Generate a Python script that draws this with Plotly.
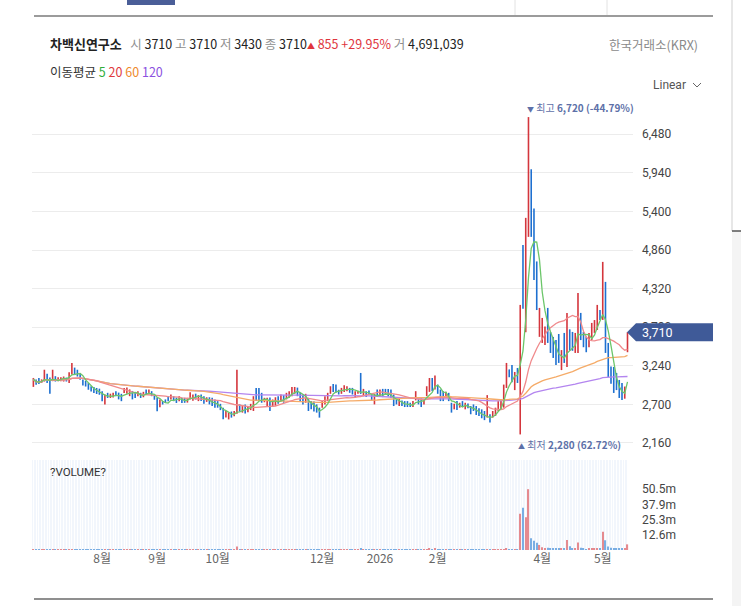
import math
import pandas as pd
import plotly.graph_objects as go

# ---------------- data ----------------
holidays = ["2025-08-15", "2025-10-03", "2025-10-06", "2025-10-07", "2025-10-08",
            "2025-10-09", "2025-12-25", "2025-12-31", "2026-01-01", "2026-02-16",
            "2026-02-17", "2026-02-18", "2026-03-02", "2026-05-01", "2026-05-05"]
dates = [d.strftime("%Y-%m-%d") for d in
         pd.bdate_range("2025-06-27", "2026-05-18", freq="C", holidays=holidays)]

open_ = [2960, 3040, 3060, 3005, 3030, 3120, 3070, 3030, 3080, 3030, 3030, 3030, 3070, 3010, 3130, 3210, 3180, 3130, 3045, 3020,
         2990, 2950, 2930, 2920, 2910, 2880, 2720, 2855, 2800, 2805, 2845, 2860, 2840, 2865, 2860, 2830, 2880, 2860, 2820, 2860,
         2805, 2900, 2845, 2880, 2830, 2790, 2670, 2745, 2765, 2810, 2775, 2810, 2790, 2750, 2790, 2785, 2730, 2775, 2760, 2845,
         2755, 2835, 2810, 2740, 2795, 2780, 2765, 2740, 2700, 2650, 2520, 2495, 2595, 2540, 2590, 2690, 2590, 2690, 2600, 2640,
         2620, 2920, 2920, 2860, 2735, 2690, 2790, 2680, 2690, 2810, 2750, 2825, 2775, 2800, 2820, 2850, 2930, 2860, 2835, 2730,
         2790, 2740, 2735, 2695, 2650, 2660, 2705, 2750, 2850, 2980, 2970, 2900, 2850, 2880, 2890, 2930, 2925, 2800, 2870, 3120,
         2820, 2880, 2890, 2845, 2710, 2905, 2820, 2910, 2910, 2905, 2900, 2830, 2765, 2690, 2750, 2740, 2740, 2720, 2670, 2760,
         2785, 2790, 2705, 2820, 2880, 3060, 2910, 2970, 2900, 2880, 2805, 2860, 2720, 2635, 2740, 2660, 2740, 2635, 2710, 2675,
         2690, 2670, 2640, 2625, 2600, 2520, 2560, 2520, 2545, 2620, 2640, 2660, 2944, 3180, 3240, 2910, 3200, 2950, 4900, 3720,
         5100, 5980, 5430, 4690, 3700, 3570, 3540, 4040, 3700, 3630, 3590, 3670, 3200, 3690, 3240, 3740, 3700, 3430, 3450, 3970,
         3700, 3640, 3510, 3610, 3710, 3750, 4010, 3900, 4400, 3550, 3220, 3180, 3130, 3030, 2990, 2800, 3710]
high = [3070, 3050, 3070, 3050, 3185, 3130, 3075, 3185, 3095, 3080, 3080, 3090, 3075, 3150, 3280, 3215, 3185, 3140, 3050, 3030,
        3000, 2955, 2945, 2930, 2920, 2885, 2840, 2862, 2850, 2862, 2885, 2865, 2848, 2931, 2935, 2910, 2888, 2865, 2885, 2862,
        2876, 2910, 2908, 2885, 2840, 2795, 2770, 2748, 2770, 2815, 2840, 2815, 2795, 2815, 2792, 2792, 2792, 2870, 2840, 2850,
        2830, 2838, 2815, 2800, 2800, 2792, 2769, 2746, 2708, 2654, 2608, 2585, 2600, 2608, 3185, 2700, 2677, 2700, 2677, 2708,
        2815, 2931, 2931, 2862, 2792, 2792, 2795, 2769, 2800, 2815, 2840, 2830, 2862, 2885, 2944, 2944, 2935, 2862, 2838, 2848,
        2792, 2746, 2740, 2700, 2654, 2746, 2815, 2862, 2954, 2986, 2977, 2905, 2931, 2968, 2954, 2931, 2931, 2885, 2890, 3140,
        2917, 2885, 2894, 2848, 2848, 2908, 2908, 2917, 2917, 2917, 2908, 2838, 2769, 2792, 2756, 2746, 2746, 2723, 2746, 2885,
        2792, 2800, 2769, 2954, 3069, 3069, 3106, 2977, 2908, 2885, 2876, 2862, 2723, 2710, 2746, 2723, 2746, 2723, 2712, 2677,
        2700, 2677, 2645, 2631, 2608, 2830, 2562, 2608, 2654, 2746, 2769, 2977, 3280, 3190, 3250, 3154, 3210, 4092, 4930, 5310,
        6720, 5990, 5440, 4700, 4050, 3910, 3790, 4050, 3714, 3644, 3600, 3685, 3460, 3700, 3980, 3750, 3714, 3700, 4260, 3980,
        3714, 3650, 3700, 3840, 3880, 4092, 4022, 4694, 4414, 3560, 3230, 3224, 3140, 3042, 3000, 2950, 3710]
low = [2945, 2975, 2985, 3000, 3020, 3000, 2850, 3025, 3020, 3025, 3025, 3020, 3020, 3000, 3120, 3110, 3090, 3045, 2965, 2950,
       2905, 2880, 2860, 2845, 2835, 2745, 2700, 2790, 2790, 2795, 2815, 2770, 2745, 2860, 2850, 2815, 2770, 2790, 2815, 2790,
       2800, 2835, 2838, 2815, 2765, 2605, 2660, 2698, 2720, 2745, 2770, 2745, 2720, 2745, 2720, 2722, 2725, 2770, 2750, 2768,
       2746, 2746, 2710, 2735, 2700, 2677, 2654, 2654, 2620, 2492, 2515, 2490, 2515, 2535, 2570, 2600, 2585, 2572, 2590, 2620,
       2608, 2746, 2750, 2723, 2730, 2677, 2608, 2665, 2680, 2710, 2745, 2723, 2770, 2792, 2815, 2848, 2815, 2746, 2700, 2723,
       2608, 2631, 2600, 2585, 2515, 2654, 2700, 2746, 2848, 2875, 2862, 2838, 2848, 2875, 2885, 2862, 2838, 2792, 2850, 2846,
       2815, 2802, 2838, 2756, 2700, 2815, 2815, 2802, 2838, 2815, 2792, 2677, 2700, 2677, 2677, 2663, 2663, 2663, 2663, 2756,
       2700, 2663, 2700, 2815, 2875, 2885, 2907, 2848, 2746, 2746, 2802, 2746, 2585, 2631, 2620, 2654, 2663, 2631, 2645, 2562,
       2608, 2552, 2539, 2506, 2480, 2515, 2446, 2515, 2539, 2608, 2631, 2654, 2930, 3080, 3010, 2900, 3000, 2280, 4040, 3710,
       5044, 5044, 4440, 4020, 3645, 3560, 3530, 3560, 3420, 3350, 3250, 3280, 3180, 3280, 3224, 3450, 3450, 3420, 3420, 3600,
       3500, 3430, 3500, 3600, 3700, 3742, 3882, 3882, 3420, 3084, 2990, 2860, 2900, 2790, 2760, 2780, 3430]
close = [3050, 2990, 3000, 3040, 3150, 3010, 2990, 3060, 3030, 3070, 3075, 3080, 3030, 3130, 3250, 3130, 3100, 3050, 2975, 2960,
         2915, 2890, 2870, 2855, 2845, 2760, 2820, 2800, 2840, 2850, 2840, 2780, 2760, 2920, 2925, 2900, 2790, 2800, 2875, 2800,
         2865, 2845, 2900, 2825, 2775, 2650, 2760, 2705, 2730, 2755, 2830, 2760, 2735, 2805, 2730, 2735, 2785, 2860, 2830, 2780,
         2820, 2755, 2725, 2790, 2710, 2690, 2665, 2660, 2630, 2510, 2600, 2575, 2525, 2600, 2660, 2620, 2670, 2590, 2670, 2700,
         2800, 2770, 2780, 2740, 2785, 2780, 2630, 2760, 2790, 2720, 2830, 2735, 2850, 2875, 2930, 2935, 2825, 2760, 2720, 2840,
         2630, 2645, 2615, 2600, 2540, 2740, 2805, 2850, 2945, 2890, 2880, 2845, 2925, 2960, 2945, 2870, 2850, 2875, 2885, 2860,
         2905, 2815, 2845, 2765, 2840, 2825, 2900, 2815, 2845, 2825, 2800, 2690, 2705, 2785, 2685, 2670, 2675, 2670, 2740, 2875,
         2710, 2680, 2760, 2945, 3050, 2900, 3090, 2860, 2760, 2755, 2870, 2760, 2600, 2705, 2630, 2715, 2670, 2715, 2650, 2575,
         2615, 2565, 2550, 2520, 2495, 2560, 2460, 2600, 2645, 2735, 2760, 2960, 3260, 3090, 3030, 3140, 3010, 4000, 4060, 5200,
         6100, 5060, 4460, 4040, 3950, 3850, 3760, 3580, 3440, 3380, 3280, 3350, 3440, 3300, 3700, 3470, 3480, 3680, 4100, 3620,
         3520, 3450, 3690, 3820, 3870, 4050, 3900, 4150, 3450, 3100, 3010, 2900, 2920, 2810, 2780, 2855, 3710]
volume = [310000, 220000, 240000, 190000, 520000, 300000, 360000, 430000, 210000, 190000,
          180000, 200000, 170000, 380000, 720000, 350000, 250000, 220000, 240000, 190000,
          230000, 210000, 190000, 170000, 160000, 270000, 280000, 170000, 150000, 160000,
          140000, 180000, 170000, 220000, 190000, 170000, 180000, 150000, 160000, 150000,
          160000, 180000, 170000, 150000, 160000, 300000, 200000, 140000, 130000, 150000,
          160000, 140000, 130000, 150000, 130000, 120000, 140000, 200000, 170000, 150000,
          160000, 150000, 170000, 150000, 150000, 160000, 170000, 150000, 180000, 320000,
          220000, 180000, 190000, 170000, 2850000, 370000, 200000, 240000, 180000, 190000,
          300000, 420000, 270000, 210000, 170000, 180000, 240000, 160000, 180000, 170000,
          160000, 150000, 190000, 200000, 280000, 250000, 210000, 190000, 220000, 180000,
          210000, 170000, 180000, 160000, 240000, 210000, 230000, 210000, 350000, 300000,
          230000, 180000, 180000, 200000, 190000, 170000, 160000, 180000, 150000, 980000,
          240000, 190000, 150000, 170000, 200000, 180000, 170000, 160000, 150000, 140000,
          150000, 210000, 160000, 150000, 140000, 140000, 130000, 130000, 160000, 270000,
          190000, 180000, 160000, 340000, 1100000, 620000, 880000, 250000, 210000, 190000,
          170000, 180000, 240000, 160000, 180000, 150000, 160000, 150000, 140000, 190000,
          160000, 180000, 170000, 180000, 210000, 570000, 320000, 220000, 240000, 280000,
          310000, 820000, 1450000, 640000, 520000, 600000, 480000, 30200000, 35100000, 27300000,
          50500000, 9800000, 7600000, 6100000, 4200000, 2300000, 1600000, 1900000, 1200000, 1100000,
          1000000, 900000, 1300000, 1100000, 8400000, 3100000, 1200000, 1000000, 6300000, 1800000,
          900000, 800000, 900000, 1100000, 1000000, 1600000, 1000000, 15200000, 8100000, 3000000,
          1900000, 1400000, 1100000, 1200000, 1000000, 900000, 4691039]

price_ticks = [2160, 2700, 3240, 3780, 4320, 4860, 5400, 5940, 6480]
price_tick_labels = ["2,160", "2,700", "3,240", "3,780", "4,320", "4,860", "5,400", "5,940", "6,480"]
month_keys = ["2025-08", "2025-09", "2025-10", "2025-12", "2026-01", "2026-02", "2026-04", "2026-05"]
month_labels = ["8월", "9월", "10월", "12월", "2026", "2월", "4월", "5월"]
ma_periods = [5, 20, 60, 120]
stock_name = "차백신연구소"
exchange = "한국거래소(KRX)"

# ---------------- layout helpers ----------------
W, H = 741, 606
L, R = 32, 633
PW = R - L
def px_x(px):
    return (px - L) / PW
def px_y(py):
    return 1 - py / H

RED, BLUE = "#d4363d", "#1e70d0"
VRED, VBLUE = "#e58a8f", "#7aaee3"
MA_COLORS = {5: "#6cc66a", 20: "#f08a8c", 60: "#f5ab68", 120: "#b385ef"}
MA_TXT = {5: "#2fae3a", 20: "#e0393e", 60: "#ee8a2c", 120: "#8c52e0"}
FONT = "Roboto, 'Noto Sans CJK KR', sans-serif"
KFONT = "'Noto Sans CJK KR', Roboto, sans-serif"

P_LO, P_HI = 1964, 6959
price_dom = [px_y(457), px_y(100)]
vol_dom = [px_y(550), px_y(460)]

# ---------------- traces ----------------
fig = go.Figure()
fig.add_trace(go.Ohlc(
    x=dates, open=open_, high=high, low=low, close=close, tickwidth=0,
    increasing=dict(line=dict(color=RED, width=1.6)),
    decreasing=dict(line=dict(color=BLUE, width=1.6)),
    showlegend=False, hoverinfo="skip", xaxis="x", yaxis="y"))

s = pd.Series(close, dtype=float)
for n in [120, 60, 20, 5]:
    fig.add_trace(go.Scatter(x=dates, y=s.rolling(n, min_periods=1).mean(), mode="lines",
                             line=dict(color=MA_COLORS[n], width=1.3), showlegend=False,
                             hoverinfo="skip", xaxis="x", yaxis="y"))

vcolors = []
for i in range(len(close)):
    prev = close[i - 1] if i > 0 else close[i]
    up = close[i] > open_[i] or (close[i] == open_[i] and close[i] >= prev)
    vcolors.append(VRED if up else VBLUE)
fig.add_trace(go.Bar(x=dates, y=volume, marker=dict(color=vcolors, line=dict(width=0)),
                     width=0.45, showlegend=False, hoverinfo="skip", xaxis="x2", yaxis="y2"))

# ---------------- axes ----------------
first_of_month = {}
for d in dates:
    first_of_month.setdefault(d[:7], d)
lab = {first_of_month[k]: t for k, t in zip(month_keys, month_labels)}
x2_text = [lab.get(d, "") for d in dates]

max_vol = max(volume)
vol_ticks = [max_vol * k / 4 for k in (1, 2, 3, 4)]
vol_tick_labels = [f"{math.floor(v / 1e5 + 0.5) / 10:.1f}m" for v in vol_ticks]

fig.update_layout(
    width=W, height=H, margin=dict(l=L, r=W - R, t=0, b=0),
    paper_bgcolor="white", plot_bgcolor="rgba(0,0,0,0)",
    font=dict(family=FONT, size=12, color="#444"),
    xaxis=dict(type="category", domain=[0, 1], anchor="y", range=[-0.5, 218],
               showticklabels=False, showgrid=False, zeroline=False, showline=False,
               rangeslider=dict(visible=False), fixedrange=True),
    yaxis=dict(domain=price_dom, anchor="x", side="right", range=[P_LO, P_HI],
               tickvals=price_ticks, ticktext=price_tick_labels, showgrid=True,
               gridcolor="#ececec", gridwidth=1, zeroline=False, showline=False, ticks="",
               ticklabelstandoff=8, tickfont=dict(size=12, color="#444"), automargin=False),
    xaxis2=dict(type="category", domain=[0, 1], anchor="y2", matches="x",
                tickvals=dates, ticktext=x2_text, ticks="", showgrid=True,
                gridcolor="white", gridwidth=1, zeroline=False, showline=False,
                tickfont=dict(size=12, color="#666", family=KFONT), tickangle=0,
                automargin=False, rangeslider=dict(visible=False)),
    yaxis2=dict(domain=vol_dom, anchor="x2", side="right", range=[0, max_vol * 1.48],
                tickvals=vol_ticks, ticktext=vol_tick_labels, showgrid=False, zeroline=False,
                showline=False, ticks="", ticklabelstandoff=8,
                tickfont=dict(size=12, color="#444"), automargin=False),
    bargap=0.5, showlegend=False,
)

# ---------------- shapes ----------------
shapes = []
shapes.append(dict(type="rect", xref="paper", yref="paper", x0=0, x1=px_x(628),
                   y0=vol_dom[0], y1=vol_dom[1], fillcolor="#f2f6fc", line=dict(width=0),
                   layer="below"))
shapes.append(dict(type="line", xref="paper", yref="paper", x0=px_x(34), x1=px_x(713),
                   y0=px_y(16), y1=px_y(16), line=dict(color="#7a7a7a", width=1.5)))
shapes.append(dict(type="line", xref="paper", yref="paper", x0=px_x(34), x1=px_x(713),
                   y0=px_y(599), y1=px_y(599), line=dict(color="#6a6a6a", width=1.5)))
for vx in (515, 607):
    shapes.append(dict(type="line", xref="paper", yref="paper", x0=px_x(vx), x1=px_x(vx),
                       y0=px_y(0), y1=px_y(15), line=dict(color="#e2e2e2", width=1)))
shapes.append(dict(type="line", xref="paper", yref="paper", x0=px_x(732), x1=px_x(732),
                   y0=px_y(0), y1=px_y(231), line=dict(color="#cfcfcf", width=1)))
shapes.append(dict(type="rect", xref="paper", yref="paper", x0=px_x(732), x1=px_x(742),
                   y0=px_y(606), y1=px_y(231), fillcolor="#f4f4f4", line=dict(width=0)))
shapes.append(dict(type="line", xref="paper", yref="paper", x0=px_x(732), x1=px_x(742),
                   y0=px_y(231), y1=px_y(231), line=dict(color="#555", width=1.5)))
shapes.append(dict(type="rect", xref="paper", yref="paper", x0=px_x(127), x1=px_x(175),
                   y0=px_y(5), y1=px_y(-8), fillcolor="#4a5e98", line=dict(width=0)))
shapes.append(dict(type="path", xref="paper", yref="paper",
                   path=f"M {px_x(693)} {px_y(83)} L {px_x(697)} {px_y(87)} L {px_x(701)} {px_y(83)}",
                   line=dict(color="#666", width=1)))
last = close[-1]
upp = (P_HI - P_LO) / (457 - 100)
hh = 9 * upp
shapes.append(dict(type="path", xref="paper", yref="y",
                   path=(f"M {px_x(627)} {last} L {px_x(636)} {last + hh} L {px_x(713)} {last + hh} "
                         f"L {px_x(713)} {last - hh} L {px_x(636)} {last - hh} Z"),
                   fillcolor="#3f5a98", line=dict(width=0)))
fig.update_layout(shapes=shapes)

# ---------------- annotations ----------------
prev_close = close[-2]
chg = close[-1] - prev_close
chg_pct = chg / prev_close * 100
G = "#8e8e8e"
hdr = (f"<span style='font-size:13px'><b>{stock_name}</b></span>&nbsp;&nbsp;&nbsp;"
       f"<span style='color:{G}'>시</span> {open_[-1]} "
       f"<span style='color:{G}'>고</span> {high[-1]} "
       f"<span style='color:{G}'>저</span> {low[-1]} "
       f"<span style='color:{G}'>종</span> {close[-1]}"
       f"<span style='color:#e0343c'><span style='font-size:8px'>▲</span> {chg:,} +{chg_pct:.2f}%</span> "
       f"<span style='color:{G}'>거</span> {volume[-1]:,}")
ma_txt = "이동평균 " + " ".join(f"<span style='color:{MA_TXT[n]}'>{n}</span>" for n in ma_periods)

imax = max(range(len(high)), key=lambda i: high[i])
imin = min(range(len(low)), key=lambda i: low[i])
hi_pct = (close[-1] / high[imax] - 1) * 100
lo_pct = (close[-1] / low[imin] - 1) * 100
SL = "#5d70a8"

ann = [
    dict(x=px_x(48), y=px_y(44), xref="paper", yref="paper", text=hdr, showarrow=False,
         xanchor="left", yanchor="middle", font=dict(size=12.5, color="#222", family=KFONT)),
    dict(x=px_x(700), y=px_y(45), xref="paper", yref="paper", text=exchange, showarrow=False,
         xanchor="right", yanchor="middle", font=dict(size=12.5, color="#8a8a8a", family=KFONT)),
    dict(x=px_x(48), y=px_y(71), xref="paper", yref="paper", text=ma_txt, showarrow=False,
         xanchor="left", yanchor="middle", font=dict(size=12.5, color="#333", family=KFONT)),
    dict(x=px_x(688), y=px_y(85), xref="paper", yref="paper", text="Linear", showarrow=False,
         xanchor="right", yanchor="middle", font=dict(size=12, color="#555", family=FONT)),
    dict(x=dates[imax], y=high[imax], xref="x", yref="y",
         text=f"<span style='font-size:7px'>▼</span> 최고 <b>{high[imax]:,} ({hi_pct:.2f}%)</b>",
         showarrow=False, xanchor="left", yanchor="bottom", xshift=-3, yshift=0,
         font=dict(size=10, color=SL, family=KFONT)),
    dict(x=dates[imin], y=low[imin], xref="x", yref="y",
         text=f"<span style='font-size:7px'>▲</span> 최저 <b>{low[imin]:,} ({lo_pct:.2f}%)</b>",
         showarrow=False, xanchor="left", yanchor="top", xshift=-4, yshift=-1,
         font=dict(size=10, color=SL, family=KFONT)),
    dict(x=px_x(48), y=px_y(472), xref="paper", yref="paper", text="?VOLUME?", showarrow=False,
         xanchor="left", yanchor="middle", font=dict(size=11.5, color="#333", family=FONT)),
    dict(x=px_x(640), y=last, xref="paper", yref="y", text=f"{last:,}", showarrow=False,
         xanchor="left", yanchor="middle", font=dict(size=12.5, color="white", family=FONT)),
]
fig.update_layout(annotations=ann)

fig.write_html("out.html", config={"displayModeBar": False},
               post_script="document.body.style.margin='0';document.body.style.overflow='hidden';")
